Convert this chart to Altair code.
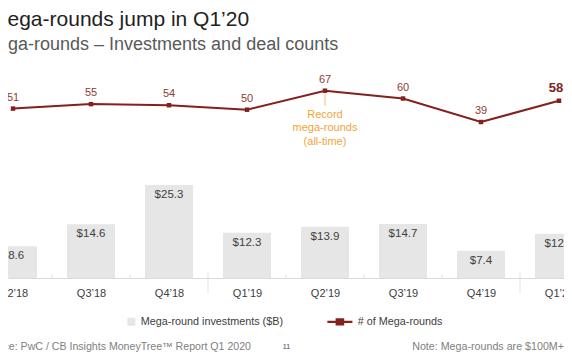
import altair as alt
import pandas as pd

# ---- data ----
quarters = ["Q2’18", "Q3’18", "Q4’18", "Q1’19", "Q2’19", "Q3’19", "Q4’19", "Q1’20"]
investments = [8.6, 14.6, 25.3, 12.3, 13.9, 14.7, 7.4, 12.0]
counts = [51, 55, 54, 50, 67, 60, 39, 58]
notes = ["", "", "", "", "Record\nmega-rounds\n(all-time)", "", "", ""]
series_names = ["Mega-round investments ($B)", "# of Mega-rounds"]
title_text = "Mega-rounds jump in Q1’20"
subtitle_text = "Mega-rounds – Investments and deal counts"
source_text = "Source: PwC / CB Insights MoneyTree™ Report Q1 2020"
page_text = "11"
note_text = "Note: Mega-rounds are $100M+"

df = pd.DataFrame({"idx": list(range(len(quarters))), "q": quarters,
                   "inv": investments, "cnt": counts, "note": notes})
bounds = pd.DataFrame({
    "idx": [i + 0.5 for i in range(len(quarters) - 1)],
    "year": [quarters[i + 1].startswith("Q1") for i in range(len(quarters) - 1)],
})
legend_df = pd.DataFrame({"series": series_names})

FONT = "Liberation Sans"
BAR = "#e6e6e6"
LINE = "#84201d"
LBL = "#8d3b35"
ORANGE = "#f2a33a"
GRAY_TXT = "#404040"

W, H = 556, 218
step = 78.0
first = 5.0
xscale = alt.Scale(domain=[-first / step, (W - first) / step], nice=False, zero=False, padding=0)
label_expr = "[" + ",".join("'" + q + "'" for q in quarters) + "][datum.value]"
xaxis = alt.Axis(values=list(range(len(quarters))), labelExpr=label_expr, ticks=False,
                 tickSize=0, grid=False, domainColor="#d9d9d9", domainWidth=1,
                 labelPadding=9, labelFontSize=11, labelColor=GRAY_TXT, labelFont=FONT,
                 title=None, labelFlush=False, labelOverlap=False)
X = alt.X("idx:Q", scale=xscale, axis=xaxis)

ybar = alt.Y("inv:Q", scale=alt.Scale(domain=[0, H / 3.68], nice=False, zero=False), axis=None)
yline = alt.Y("cnt:Q", scale=alt.Scale(domain=[-100.53, 94.46], nice=False, zero=False), axis=None)

base = alt.Chart(df)
bars = base.mark_bar(size=48, color=BAR).encode(x=X, y=ybar)
bar_lbl = base.mark_text(baseline="middle", dy=10, fontSize=11.5, font=FONT, color=GRAY_TXT).encode(
    x=X, y=ybar, text=alt.Text("inv:Q", format="$.1f"))
tb = alt.Chart(bounds)
short_ticks = tb.mark_tick(orient="vertical", size=4, thickness=1, color="#d9d9d9").encode(
    x=X, y=alt.value(216)).transform_filter("!datum.year")
long_ticks = tb.mark_tick(orient="vertical", size=20.6, thickness=1, color="#d9d9d9").encode(
    x=X, y=alt.value(223)).transform_filter("datum.year")
bar_group = alt.layer(bars, bar_lbl, short_ticks, long_ticks)

line = base.mark_line(color=LINE, strokeWidth=2).encode(x=X, y=yline)
pts = base.mark_point(shape="square", filled=True, size=20, color=LINE, opacity=1).encode(x=X, y=yline)
lbl = base.mark_text(baseline="middle", dy=-11, fontSize=11, font=FONT, color=LBL).encode(
    x=X, y=yline, text="cnt:Q").transform_filter(f"datum.idx < {len(quarters) - 1}")
lbl_last = base.mark_text(baseline="middle", dy=-12.4, dx=-3, fontSize=13, fontWeight="bold", font=FONT,
                          color=LINE).encode(x=X, y=yline, text="cnt:Q").transform_filter(
    f"datum.idx == {len(quarters) - 1}")
ann_tick = base.mark_tick(orient="vertical", size=12.4, thickness=1, color=ORANGE, yOffset=8.8).encode(
    x=X, y=yline).transform_filter("datum.note != ''")
ann = base.mark_text(lineBreak="\n", baseline="top", dy=17.9, fontSize=11, lineHeight=13.5, font=FONT,
                     color=ORANGE, align="center").encode(
    x=X, y=yline, text="note:N").transform_filter("datum.note != ''")
line_group = alt.layer(line, pts, lbl, lbl_last, ann_tick, ann)

line_path = "M-5.25,-0.28H1V0.28H-5.25Z M-3.2,-0.9H-1.05V0.9H-3.2Z"
leg = alt.Legend(orient="none", legendX=118, legendY=256, direction="horizontal", title=None,
                 symbolSize=64, labelFontSize=10.8, labelColor=GRAY_TXT, labelFont=FONT,
                 columnPadding=43, labelOffset=4, symbolStrokeWidth=0, padding=0)
legend_layer = alt.Chart(legend_df).mark_point(filled=True, opacity=1).encode(
    color=alt.Color("series:N", scale=alt.Scale(domain=series_names, range=[BAR, LINE]), legend=leg),
    shape=alt.Shape("series:N", scale=alt.Scale(domain=series_names, range=["square", line_path]), legend=leg),
).transform_filter("false")

ttl = alt.Chart(pd.DataFrame({"t": [title_text]})).mark_text(
    align="left", baseline="alphabetic", fontSize=21, font=FONT, color="#222222").encode(
    text="t:N", x=alt.value(-18), y=alt.value(-34))
sub = alt.Chart(pd.DataFrame({"t": [subtitle_text]})).mark_text(
    align="left", baseline="alphabetic", fontSize=18, font=FONT, color="#595959").encode(
    text="t:N", x=alt.value(-25), y=alt.value(-10))
foot = alt.Chart(pd.DataFrame({"t": [source_text]})).mark_text(
    align="right", baseline="alphabetic", fontSize=10.6, font=FONT, color="#808080").encode(
    text="t:N", x=alt.value(243), y=alt.value(289.5))
foot_pg = alt.Chart(pd.DataFrame({"t": [page_text]})).mark_text(
    align="center", baseline="alphabetic", fontSize=7, fontWeight="bold", font=FONT, color="#808080").encode(
    text="t:N", x=alt.value(278.5), y=alt.value(288.5))
foot_note = alt.Chart(pd.DataFrame({"t": [note_text]})).mark_text(
    align="right", baseline="alphabetic", fontSize=10.7, font=FONT, color="#808080").encode(
    text="t:N", x=alt.value(556), y=alt.value(289.5))

chart = alt.layer(bar_group, line_group, legend_layer, ttl, sub, foot, foot_pg, foot_note).resolve_scale(
    y="independent"
).properties(
    width=W, height=H,
    autosize=alt.AutoSizeParams(type="none"),
    padding={"left": 0, "top": 52, "right": 0, "bottom": 78},
).configure_view(stroke=None)

chart.save("out.html", embed_options={"renderer": "svg", "actions": False})
